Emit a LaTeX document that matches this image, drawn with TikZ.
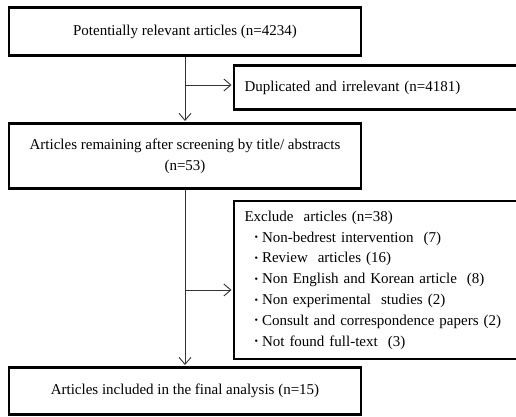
\documentclass[tikz,border=0pt]{standalone}
\usepackage{fontspec}
\setmainfont{Liberation Serif}
\usetikzlibrary{arrows.meta}
\newcommand{\bul}{\hspace*{10pt}\raisebox{1.3pt}{\fontsize{10}{10}\selectfont•}\hspace{4pt}}
\begin{document}
\begin{tikzpicture}[x=1pt,y=-1pt,
  box/.style={draw=black,line width=2.6pt,rectangle,inner sep=0pt,
    font=\fontsize{15}{20.8}\selectfont},
  lbox/.style={box,text width=263pt,inner xsep=10.5pt,align=left},
  arr/.style={draw=black!80,line width=0.9pt,shorten >=1.2pt,
    -{Straight Barb[length=7pt,width=12pt,line width=0.9pt]}}]
\useasboundingbox (0,0) rectangle (516,417);
\node[box,minimum width=352pt,minimum height=48pt] (b1) at (185,31.5)
  {Potentially relevant articles (n=4234)};
\node[lbox,minimum height=44pt] (b2) at (376,87.5)
  {Duplicated and irrelevant (n=4181)};
\node[box,minimum width=352pt,minimum height=65pt,align=center] (b3) at (185,156)
  {Articles remaining after screening by title/ abstracts\\(n=53)};
\node[lbox,minimum height=158pt] (b4) at (376,280)
  {Exclude\ \ articles (n=38)\\
   \bul Non-bedrest intervention\ \ (7)\\
   \bul Review\ \ articles (16)\\
   \bul Non English and Korean article\ \ (8)\\
   \bul Non experimental\ \ studies (2)\\
   \bul Consult and correspondence papers (2)\\
   \bul Not found full-text\ \ (3)};
\node[box,minimum width=352pt,minimum height=47pt] (b5) at (185,391)
  {Articles included in the final analysis (n=15)};
\coordinate (j1) at (185,85);
\coordinate (j2) at (185,290);
\draw[arr] (b1.south) -- (b3.north);
\draw[arr] (b3.south) -- (b5.north);
\draw[arr] (j1) -- (j1 -| b2.west);
\draw[arr] (j2) -- (j2 -| b4.west);
\end{tikzpicture}
\end{document}
